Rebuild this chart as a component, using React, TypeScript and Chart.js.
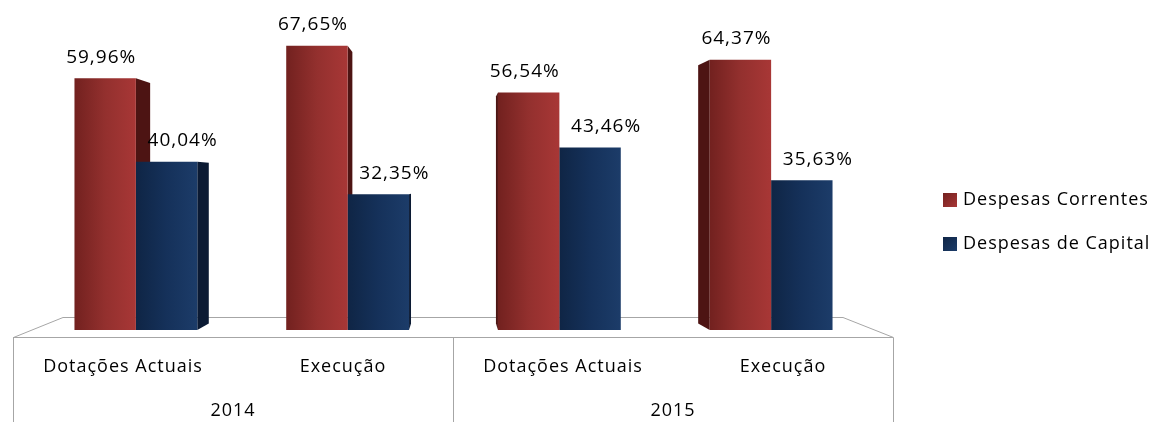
import React, { useEffect, useRef } from "react";
import { Chart, registerables } from "chart.js";

Chart.register(...registerables);

const subCategories = ["Dotações Actuais", "Execução", "Dotações Actuais", "Execução"];
const yearGroups = ["2014", "2015"];
const seriesNames = ["Despesas Correntes", "Despesas de Capital"];
const correntes = [59.96, 67.65, 56.54, 64.37];
const capital = [40.04, 32.35, 43.46, 35.63];
const Y_MAX = 75;

const FONT = "'Open Sans', 'Noto Sans', sans-serif";
const CAT_PCT = 0.58;

const redStops = ["#72211f", "#93302e", "#a83736"];
const blueStops = ["#0f2545", "#15315a", "#1c3c69"];
const sideColors = ["#4d1413", "#0b1a33"];
const labelDx = [-4, 16];

const fmt = (v: number) => v.toFixed(2).replace(".", ",") + "%";

function barFill(dsIndex: number) {
  return (c: any) => {
    const chart = c.chart;
    const xs = chart.scales && chart.scales.x;
    const stops = dsIndex === 0 ? redStops : blueStops;
    if (!xs || c.dataIndex === undefined) return stops[1];
    const center = xs.getPixelForValue(c.dataIndex);
    const bw = (xs.width / subCategories.length) * CAT_PCT / 2;
    const x0 = dsIndex === 0 ? center - bw : center;
    if (!Number.isFinite(x0) || !Number.isFinite(bw) || bw <= 0) return stops[1];
    const g = chart.ctx.createLinearGradient(x0, 0, x0 + bw, 0);
    g.addColorStop(0, stops[0]);
    g.addColorStop(0.5, stops[1]);
    g.addColorStop(1, stops[2]);
    return g;
  };
}

function setSpacing(ctx: any, v: string) {
  if ("letterSpacing" in ctx) ctx.letterSpacing = v;
}

const excel3d = {
  id: "excel3d",
  beforeDatasetsDraw(chart: any) {
    const { ctx, chartArea: ca } = chart;
    const fl = ca.left - 17;
    const fr = ca.right + 16;
    const fy = ca.bottom + 7;
    const by = ca.bottom - 13;
    const bl = fl + 50;
    const br = fr - 50;
    ctx.save();
    ctx.strokeStyle = "#a6a6a6";
    ctx.lineWidth = 1;
    ctx.beginPath();
    ctx.moveTo(fl + 0.5, chart.height);
    ctx.lineTo(fl + 0.5, fy + 0.5);
    ctx.lineTo(bl, by + 0.5);
    ctx.lineTo(br, by + 0.5);
    ctx.lineTo(fr + 0.5, fy + 0.5);
    ctx.lineTo(fr + 0.5, chart.height);
    ctx.moveTo(fl, fy + 0.5);
    ctx.lineTo(fr, fy + 0.5);
    const mid = Math.round((fl + fr) / 2) + 0.5;
    ctx.moveTo(mid, fy);
    ctx.lineTo(mid, chart.height);
    ctx.stroke();

    // side faces (perspective toward center)
    const vx = (fl + fr) / 2;
    const vy = ca.top + 168;
    const k = 0.045;
    chart.data.datasets.forEach((_: any, d: number) => {
      const meta = chart.getDatasetMeta(d);
      meta.data.forEach((el: any) => {
        const L = el.x - el.width / 2;
        const R = el.x + el.width / 2;
        let e: number;
        if (R < vx) e = R;
        else if (L > vx) e = L;
        else return;
        const top = el.y;
        const base = el.base;
        const ex = e + (vx - e) * k;
        ctx.fillStyle = sideColors[d];
        ctx.beginPath();
        ctx.moveTo(e, top);
        ctx.lineTo(ex, top + (vy - top) * k);
        ctx.lineTo(ex, base + (vy - base) * k);
        ctx.lineTo(e, base);
        ctx.closePath();
        ctx.fill();
      });
    });
    ctx.restore();
  },
  afterDatasetsDraw(chart: any) {
    const { ctx, chartArea: ca } = chart;
    ctx.save();
    ctx.fillStyle = "#000";
    ctx.textAlign = "center";
    ctx.textBaseline = "middle";
    ctx.font = `19px ${FONT}`;
    setSpacing(ctx, "1px");
    chart.data.datasets.forEach((ds: any, d: number) => {
      const meta = chart.getDatasetMeta(d);
      meta.data.forEach((el: any, i: number) => {
        ctx.fillText(fmt(ds.data[i]), el.x + labelDx[d], el.y - 21);
      });
    });

    // axis labels on the floor front face
    const fl = ca.left - 17;
    const fr = ca.right + 16;
    const qw = (fr - fl) / subCategories.length;
    ctx.font = `18px ${FONT}`;
    subCategories.forEach((s, i) => {
      ctx.fillText(s, fl + (i + 0.5) * qw, ca.bottom + 37);
    });
    const hw = (fr - fl) / yearGroups.length;
    yearGroups.forEach((s, j) => {
      ctx.fillText(s, fl + (j + 0.5) * hw, ca.bottom + 81);
    });

    // legend
    ctx.textAlign = "left";
    ctx.font = `18px ${FONT}`;
    const lx = ca.right + 66;
    seriesNames.forEach((n, d) => {
      const cy = 200 + d * 44;
      const stops = d === 0 ? redStops : blueStops;
      const g = ctx.createLinearGradient(lx, cy - 7, lx + 14, cy + 7);
      g.addColorStop(0, stops[0]);
      g.addColorStop(1, stops[2]);
      ctx.fillStyle = g;
      ctx.fillRect(lx, cy - 7, 14, 14);
      ctx.fillStyle = "#000";
      ctx.fillText(n, lx + 20, cy);
    });
    ctx.restore();
  },
};

export default function App() {
  const ref = useRef<HTMLCanvasElement | null>(null);
  useEffect(() => {
    if (!ref.current) return;
    const chart = new Chart(ref.current, {
      type: "bar",
      data: {
        labels: subCategories,
        datasets: [
          {
            label: seriesNames[0],
            data: correntes,
            backgroundColor: barFill(0),
            borderWidth: 0,
            categoryPercentage: CAT_PCT,
            barPercentage: 1,
          },
          {
            label: seriesNames[1],
            data: capital,
            backgroundColor: barFill(1),
            borderWidth: 0,
            categoryPercentage: CAT_PCT,
            barPercentage: 1,
          },
        ],
      },
      options: {
        responsive: false,
        animation: false,
        devicePixelRatio: 1,
        layout: { padding: { left: 30, right: 276, top: 15, bottom: 92 } },
        plugins: { legend: { display: false }, tooltip: { enabled: false } },
        scales: {
          x: { display: false, offset: true },
          y: { display: false, min: 0, max: Y_MAX },
        },
      },
      plugins: [excel3d],
    });
    return () => chart.destroy();
  }, []);
  return (
    <div style={{ position: "fixed", left: 0, top: 0, width: 1153, height: 422, background: "#fff" }}>
      <canvas ref={ref} width={1153} height={422} />
    </div>
  );
}
